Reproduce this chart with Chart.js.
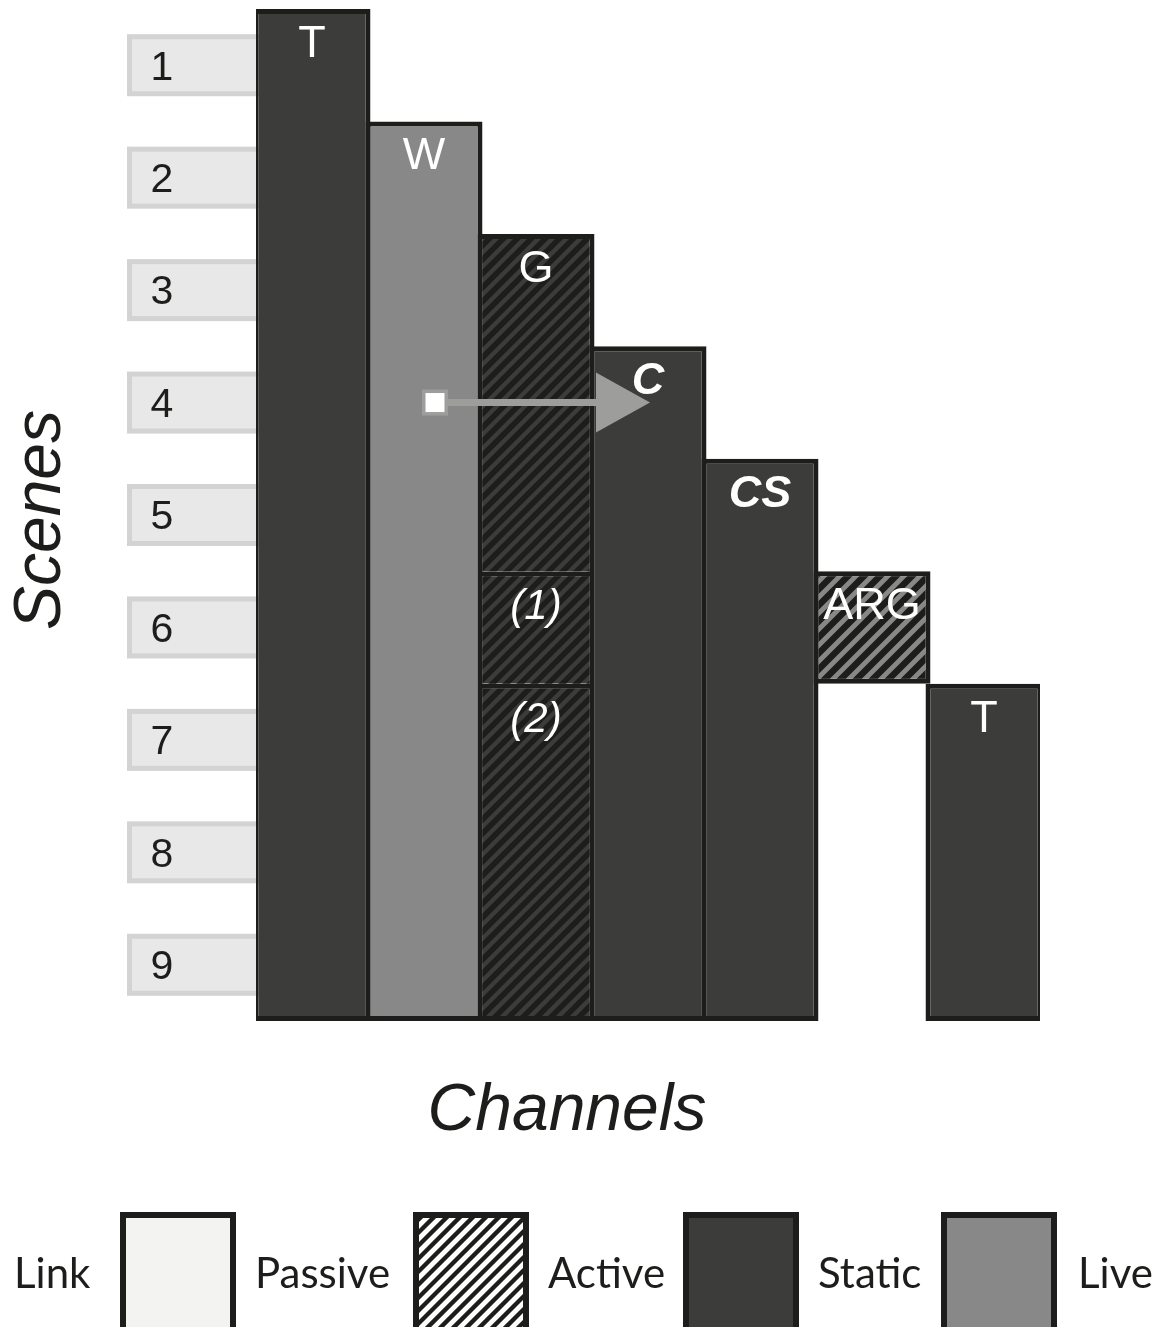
<!DOCTYPE html>
<html>
<head>
<meta charset="utf-8">
<script src="https://cdn.jsdelivr.net/npm/chart.js@4.4.1/dist/chart.umd.min.js"></script>
<style>
  html, body { margin: 0; padding: 0; background: #fff; }
  canvas { display: block; }
</style>
</head>
<body>
<canvas id="myChart" width="1171" height="1327"></canvas>
<script>
const channels = ['T', 'W', 'G', 'C', 'CS', 'ARG', 'T'];
const scenes = ['1', '2', '3', '4', '5', '6', '7', '8', '9'];

// floating bars: [first scene boundary, last scene boundary]
const staticSpans = [[0, 9], null, null, [3, 9], [4, 9], null, [6, 9]];
const liveSpans = [null, [1, 9], null, null, null, null, null];
const activeSpans = [null, null, [2, 5], null, null, null, null];
const part1Spans = [null, null, [5, 6], null, null, null, null];
const part2Spans = [null, null, [6, 9], null, null, null, null];
const liveActiveSpans = [null, null, null, null, null, [5, 6], null];
const partNames = ['(1)', '(2)'];

// link arrow: W -> C during scene 4
const arrowFrom = 1;
const arrowTo = 3;
const arrowScene = 3.5;

const legendNames = ['Link', 'Passive', 'Active', 'Static', 'Live'];

const ctx = document.getElementById('myChart').getContext('2d');

// stripe styles
const darkHatch = { fg: '#1d1d1b', step: 14, width: 5.5 };
const liveHatch = { fg: '#1d1d1b', step: 16, width: 6.5 };
const legendHatch = { fg: '#1d1d1b', step: 13, width: 4.4 };

const legendFills = ['#f3f3f2', '#ffffff', '#3c3c3b', '#878887'];
const legendHatches = [null, legendHatch, null, null];
const legendTextX = [14, 255, 548, 818, 1078];
const legendBoxX = [120, 413, 683, 941];

const noBottom = { top: 5, left: 5, right: 5, bottom: 0 };

// "/" stripes inside a rectangle
function drawStripes(c, l, t, r, b, h) {
  c.save();
  c.beginPath();
  c.rect(l, t, r - l, b - t);
  c.clip();
  c.strokeStyle = h.fg;
  c.lineWidth = h.width;
  c.beginPath();
  const start = Math.floor((l + t) / h.step) * h.step;
  for (let s = start; s <= r + b + h.step; s += h.step) {
    c.moveTo(s - b - 10, b + 10);
    c.lineTo(s - t + 10, t - 10);
  }
  c.stroke();
  c.restore();
}

const sceneBoxes = {
  id: 'sceneBoxes',
  beforeDatasetsDraw(chart) {
    const { ctx, scales: { y }, chartArea } = chart;
    ctx.save();
    scenes.forEach((s, i) => {
      const yc = y.getPixelForValue(i + 0.5);
      ctx.fillStyle = '#e8e8e8';
      ctx.fillRect(129.5, yc - 28.5, chartArea.left - 120, 57);
      ctx.strokeStyle = '#d3d3d3';
      ctx.lineWidth = 5;
      ctx.strokeRect(129.5, yc - 28.5, chartArea.left - 120, 57);
      ctx.fillStyle = '#1d1d1b';
      ctx.font = '41px "Liberation Sans"';
      ctx.textAlign = 'center';
      ctx.textBaseline = 'middle';
      ctx.fillText(s, 162, yc + 3);
    });

    // axis titles
    ctx.font = 'italic 66px "Liberation Sans"';
    ctx.fillStyle = '#1d1d1b';
    ctx.textAlign = 'center';
    ctx.textBaseline = 'middle';
    ctx.fillText('Channels', 567, 1112);
    ctx.save();
    ctx.translate(42, 520);
    ctx.rotate(-Math.PI / 2);
    ctx.fillText('Scenes', 0, 0);
    ctx.restore();
    ctx.restore();
  }
};

const barLabels = {
  id: 'barLabels',
  afterDatasetsDraw(chart) {
    const { ctx, scales: { x, y } } = chart;
    ctx.save();

    // hatching of active channels
    chart.data.datasets.forEach((ds, di) => {
      if (!ds.hatch) return;
      const meta = chart.getDatasetMeta(di);
      const bw = ds.borderWidth || { top: 5, left: 5, right: 5, bottom: 5 };
      meta.data.forEach((el, i) => {
        if (!ds.data[i]) return;
        const top = Math.min(el.y, el.base);
        const bottom = Math.max(el.y, el.base);
        drawStripes(ctx, el.x - el.width / 2 + bw.left, top + bw.top,
          el.x + el.width / 2 - bw.right, bottom - bw.bottom, ds.hatch);
      });
    });

    // arrow
    const ay = y.getPixelForValue(arrowScene);
    const ax0 = x.getPixelForValue(arrowFrom) + 11;
    const ax1 = x.getPixelForValue(arrowTo) + 2;
    ctx.strokeStyle = '#9d9d9c';
    ctx.lineWidth = 7;
    ctx.beginPath();
    ctx.moveTo(ax0, ay);
    ctx.lineTo(ax1 - 50, ay);
    ctx.stroke();
    ctx.fillStyle = '#9d9d9c';
    ctx.beginPath();
    ctx.moveTo(ax1, ay);
    ctx.lineTo(ax1 - 54, ay - 30);
    ctx.lineTo(ax1 - 54, ay + 30);
    ctx.closePath();
    ctx.fill();
    ctx.fillRect(ax0 - 13, ay - 13, 26, 26);
    ctx.fillStyle = '#ffffff';
    ctx.fillRect(ax0 - 9.5, ay - 9.5, 19, 19);

    // labels on the bars
    ctx.fillStyle = '#ffffff';
    ctx.textAlign = 'center';
    ctx.textBaseline = 'alphabetic';
    chart.data.datasets.forEach((ds, di) => {
      const meta = chart.getDatasetMeta(di);
      meta.data.forEach((el, i) => {
        if (!ds.data[i]) return;
        const text = ds.barText[i];
        const top = Math.min(el.y, el.base);
        let font = '45px "Liberation Sans"';
        if (text === 'C' || text === 'CS') font = 'italic bold 45px "Liberation Sans"';
        if (text.startsWith('(')) font = 'italic 42px "Liberation Sans"';
        ctx.font = font;
        ctx.fillText(text, el.x, top + 48);
      });
    });
    ctx.restore();
  },
  afterDraw(chart) {
    const { ctx } = chart;
    ctx.save();
    ctx.font = '42px Lato';
    ctx.textAlign = 'left';
    ctx.textBaseline = 'alphabetic';
    legendNames.forEach((name, i) => {
      ctx.fillStyle = '#1d1d1b';
      ctx.fillText(name, legendTextX[i], 1288);
      if (i < legendFills.length) {
        const bx = legendBoxX[i];
        ctx.fillStyle = legendFills[i];
        ctx.fillRect(bx, 1212, 116, 130);
        if (legendHatches[i]) drawStripes(ctx, bx + 6, 1218, bx + 110, 1327, legendHatches[i]);
        ctx.strokeStyle = '#1d1d1b';
        ctx.lineWidth = 6;
        ctx.strokeRect(bx + 3, 1215, 110, 130);
      }
    });
    ctx.restore();
  }
};

new Chart(ctx, {
  type: 'bar',
  data: {
    labels: channels,
    datasets: [
      { label: 'Static', data: staticSpans, backgroundColor: '#3c3c3b', barText: channels },
      { label: 'Live', data: liveSpans, backgroundColor: '#878887', barText: channels },
      { label: 'Active', data: activeSpans, backgroundColor: '#3c3c3b', hatch: darkHatch, barText: channels, borderWidth: noBottom },
      { label: 'Active 1', data: part1Spans, backgroundColor: '#3c3c3b', hatch: darkHatch, barText: channels.map(() => partNames[0]), borderWidth: noBottom },
      { label: 'Active 2', data: part2Spans, backgroundColor: '#3c3c3b', hatch: darkHatch, barText: channels.map(() => partNames[1]) },
      { label: 'Live active', data: liveActiveSpans, backgroundColor: '#878887', hatch: liveHatch, barText: channels }
    ]
  },
  options: {
    responsive: false,
    animation: false,
    layout: { padding: { left: 256, right: 131, top: 9, bottom: 306 } },
    datasets: {
      bar: {
        grouped: false,
        categoryPercentage: 1,
        barPercentage: 117 / 112,
        borderColor: '#1d1d1b',
        borderWidth: 5,
        borderSkipped: false
      }
    },
    scales: {
      x: { display: false },
      y: { display: false, min: 0, max: 9, reverse: true }
    },
    plugins: {
      legend: { display: false },
      tooltip: { enabled: false }
    }
  },
  plugins: [sceneBoxes, barLabels]
});
</script>
</body>
</html>
